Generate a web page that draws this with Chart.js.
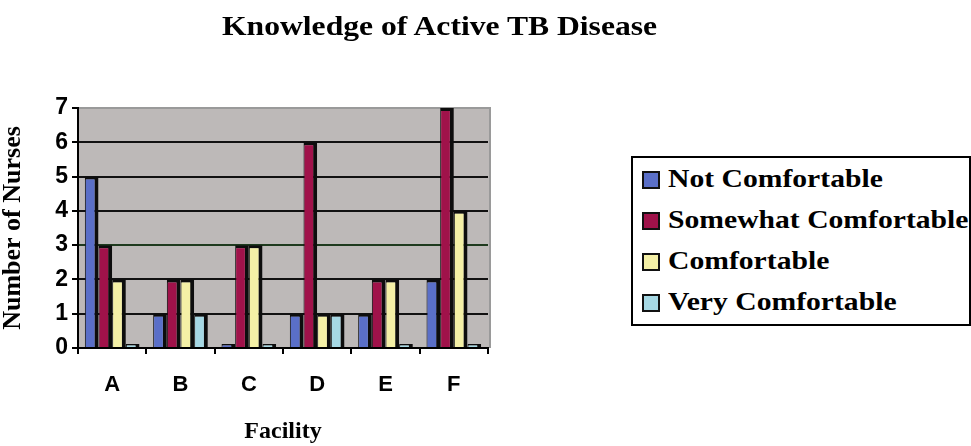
<!DOCTYPE html>
<html>
<head>
<meta charset="utf-8">
<script src="https://cdn.jsdelivr.net/npm/chart.js@4.4.1/dist/chart.umd.min.js"></script>
<style>
  html, body { margin: 0; padding: 0; background: #fff; }
  body { width: 971px; height: 446px; overflow: hidden; position: relative; }
  #wrap { position: absolute; left: 0; top: 0; width: 971px; height: 446px; }
  #title { position: absolute; left: 222px; top: 12px; font: bold 27.5px "Liberation Serif", "Times New Roman", serif; line-height: 1; white-space: nowrap; transform: scaleX(1.15); transform-origin: left top; color: #000; }
  #legend { position: absolute; left: 631px; top: 156px; width: 336px; border: 2px solid #000; padding-bottom: 2px; box-sizing: content-box; background: #fff; }
  .row { position: relative; height: 41px; }
  .sw { position: absolute; left: 9px; top: 13px; width: 18px; height: 18px; border: 2px solid #111; box-sizing: border-box; }
  .lt { position: absolute; left: 35px; top: 0; font: bold 26px "Liberation Serif", "Times New Roman", serif; line-height: 41px; white-space: nowrap; transform: scaleX(1.14); transform-origin: left top; color: #000; }
</style>
</head>
<body>
<div id="wrap"><canvas id="c" width="971" height="446"></canvas></div>
<div id="title"></div>
<div id="legend"></div>
<script>
// ---- data ----
const chartTitle = 'Knowledge of Active TB Disease';
const xAxisTitle = 'Facility';
const yAxisTitle = 'Number of Nurses';
const categories = ['A', 'B', 'C', 'D', 'E', 'F'];
const seriesNames = ['Not Comfortable', 'Somewhat Comfortable', 'Comfortable', 'Very Comfortable'];
const notComfortable = [5, 1, 0, 1, 1, 2];
const somewhatComfortable = [3, 2, 3, 6, 2, 7];
const comfortable = [2, 2, 3, 1, 2, 4];
const veryComfortable = [0, 1, 0, 1, 0, 0];
const yMin = 0, yMax = 7, yStep = 1;

// ---- styles ----
const seriesColors = ['#5A6FC8', '#A0124A', '#F4F0A6', '#A6D8E4'];
const plotBg = '#BDB9B8';

document.getElementById('title').textContent = chartTitle;
const legendEl = document.getElementById('legend');
seriesNames.forEach((n, i) => {
  const row = document.createElement('div'); row.className = 'row';
  const sw = document.createElement('div'); sw.className = 'sw'; sw.style.background = seriesColors[i];
  const lt = document.createElement('div'); lt.className = 'lt'; lt.textContent = n;
  row.appendChild(sw); row.appendChild(lt); legendEl.appendChild(row);
});

const plotBgPlugin = {
  id: 'plotBg',
  beforeDraw(chart) {
    const { ctx, chartArea: a } = chart;
    ctx.save();
    ctx.fillStyle = plotBg;
    ctx.fillRect(a.left, a.top, a.right - a.left + 2, a.bottom - a.top);
    ctx.strokeStyle = '#9a9a9a';
    ctx.lineWidth = 2;
    ctx.beginPath();
    ctx.moveTo(a.left, a.top);
    ctx.lineTo(a.right + 2, a.top);
    ctx.lineTo(a.right + 2, a.bottom);
    ctx.stroke();
    ctx.restore();
  }
};

const seriesData = [notComfortable, somewhatComfortable, comfortable, veryComfortable];
const datasets = seriesData.map((d, i) => ({
  label: seriesNames[i],
  data: d,
  backgroundColor: seriesColors[i],
  borderColor: '#0d0d0d',
  borderWidth: { top: 3, right: 4, left: 1, bottom: 0 },
  borderSkipped: 'start',
  minBarLength: 4,
  categoryPercentage: 0.8,
  barPercentage: 1.0
}));

new Chart(document.getElementById('c'), {
  type: 'bar',
  data: { labels: categories, datasets },
  plugins: [plotBgPlugin],
  options: {
    responsive: false,
    devicePixelRatio: 1,
    animation: false,
    layout: { padding: { top: 108, right: 483, left: 0, bottom: 0 } },
    plugins: { legend: { display: false }, title: { display: false }, tooltip: { enabled: false } },
    scales: {
      x: {
        afterFit(s) { s.height = 98; },
        grid: { display: true, drawOnChartArea: false, drawTicks: true, tickLength: 6, offset: true, color: '#000', lineWidth: 2 },
        border: { display: true, color: '#000', width: 2 },
        ticks: { color: '#000', padding: 18, font: { family: '"Liberation Sans", Arial, sans-serif', weight: 'bold', size: 22 } },
        title: { display: true, text: xAxisTitle, color: '#000', padding: 0, font: { family: '"Liberation Serif", "Times New Roman", serif', weight: 'bold', size: 24, lineHeight: 1.2 } }
      },
      y: {
        min: yMin, max: yMax,
        afterFit(s) { s.width = 78; },
        grid: {
          color: (c) => c.tick && c.tick.value === 7 ? '#9a9a9a' : (c.tick && c.tick.value === 3 ? '#1e3a1e' : '#111'),
          tickColor: '#000', lineWidth: 2, tickLength: 6, drawTicks: true
        },
        border: { display: true, color: '#000', width: 2 },
        ticks: { stepSize: yStep, color: '#000', padding: 4, font: { family: '"Liberation Sans", Arial, sans-serif', weight: 'bold', size: 23 } },
        title: { display: true, text: yAxisTitle, color: '#000', padding: 0, font: { family: '"Liberation Serif", "Times New Roman", serif', weight: 'bold', size: 26, lineHeight: 1 } }
      }
    }
  }
});
</script>
</body>
</html>
